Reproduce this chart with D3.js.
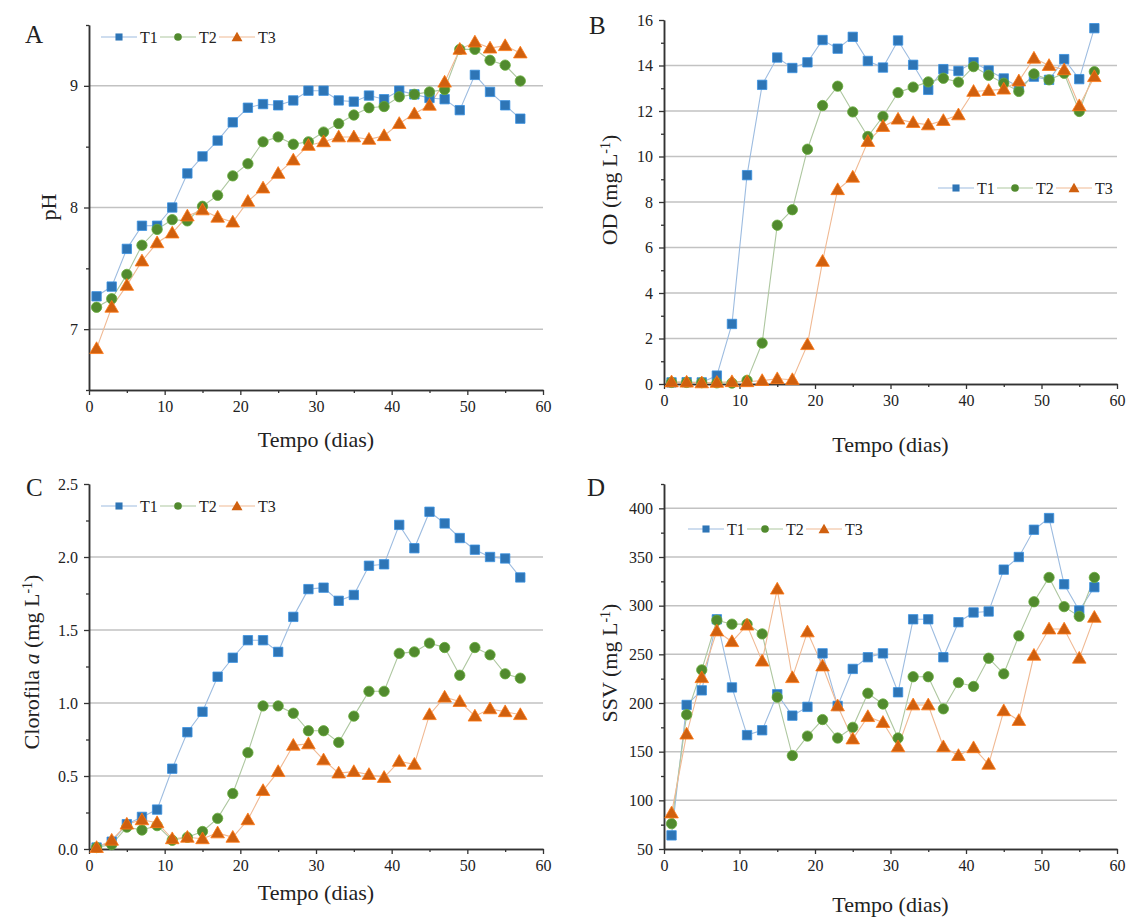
<!DOCTYPE html>
<html>
<head>
<meta charset="utf-8">
<script src="https://cdn.jsdelivr.net/npm/d3@7"></script>
<style>
  html, body { margin: 0; padding: 0; background: #fff; }
  svg { display: block; }
  text { font-family: "Liberation Serif", "Times New Roman", serif; fill: #222; }
</style>
</head>
<body>
<svg id="chart" width="1129" height="923"></svg>
<script>
// Sampling days
const days = [1, 3, 5, 7, 9, 11, 13, 15, 17, 19, 21, 23, 25, 27, 29, 31, 33, 35, 37, 39, 41, 43, 45, 47, 49, 51, 53, 55, 57];
const seriesNames = ["T1", "T2", "T3"];

// A – pH
const phT1 = [7.27, 7.35, 7.66, 7.85, 7.85, 8.00, 8.28, 8.42, 8.55, 8.70, 8.82, 8.85, 8.84, 8.88, 8.96, 8.96, 8.88, 8.87, 8.92, 8.89, 8.96, 8.93, 8.90, 8.89, 8.80, 9.09, 8.95, 8.84, 8.73];
const phT2 = [7.18, 7.25, 7.45, 7.69, 7.82, 7.90, 7.89, 8.01, 8.10, 8.26, 8.36, 8.54, 8.58, 8.52, 8.54, 8.62, 8.69, 8.76, 8.82, 8.83, 8.91, 8.93, 8.95, 8.97, 9.30, 9.30, 9.21, 9.17, 9.04];
const phT3 = [6.84, 7.18, 7.36, 7.56, 7.71, 7.79, 7.93, 7.98, 7.92, 7.88, 8.05, 8.16, 8.28, 8.39, 8.51, 8.54, 8.58, 8.58, 8.56, 8.59, 8.69, 8.77, 8.84, 9.03, 9.30, 9.36, 9.31, 9.33, 9.27];

// B – dissolved oxygen (mg L-1)
const odT1 = [0.07, 0.08, 0.07, 0.37, 2.64, 9.18, 13.15, 14.35, 13.89, 14.14, 15.12, 14.74, 15.26, 14.20, 13.91, 15.10, 14.03, 12.93, 13.84, 13.76, 14.14, 13.78, 13.43, 13.05, 13.51, 13.37, 14.28, 13.40, 15.64];
const odT2 = [0.07, 0.07, 0.06, 0.05, 0.04, 0.16, 1.80, 6.98, 7.66, 10.32, 12.24, 13.09, 11.96, 10.88, 11.76, 12.81, 13.05, 13.28, 13.44, 13.27, 13.95, 13.57, 13.22, 12.86, 13.63, 13.37, 13.66, 11.98, 13.73];
const odT3 = [0.09, 0.08, 0.05, 0.07, 0.10, 0.10, 0.15, 0.23, 0.19, 1.73, 5.39, 8.54, 9.09, 10.66, 11.32, 11.64, 11.49, 11.39, 11.58, 11.83, 12.86, 12.90, 12.96, 13.32, 14.32, 14.00, 13.81, 12.23, 13.51];

// C – chlorophyll a (mg L-1)
const chlT1 = [0.01, 0.05, 0.17, 0.22, 0.27, 0.55, 0.80, 0.94, 1.18, 1.31, 1.43, 1.43, 1.35, 1.59, 1.78, 1.79, 1.70, 1.74, 1.94, 1.95, 2.22, 2.06, 2.31, 2.23, 2.13, 2.05, 2.00, 1.99, 1.86];
const chlT2 = [0.01, 0.03, 0.15, 0.13, 0.16, 0.06, 0.08, 0.12, 0.21, 0.38, 0.66, 0.98, 0.98, 0.93, 0.81, 0.81, 0.73, 0.91, 1.08, 1.08, 1.34, 1.35, 1.41, 1.38, 1.19, 1.38, 1.33, 1.20, 1.17];
const chlT3 = [0.01, 0.06, 0.17, 0.20, 0.18, 0.07, 0.08, 0.07, 0.11, 0.08, 0.20, 0.40, 0.53, 0.71, 0.72, 0.61, 0.52, 0.53, 0.51, 0.49, 0.60, 0.58, 0.92, 1.04, 1.01, 0.91, 0.96, 0.94, 0.92];

// D – volatile suspended solids (mg L-1)
const ssvT1 = [64, 198, 213, 286, 216, 167, 172, 209, 187, 196, 251, 197, 235, 247, 251, 211, 286, 286, 247, 283, 293, 294, 337, 350, 378, 390, 322, 295, 319];
const ssvT2 = [76, 188, 234, 285, 281, 281, 271, 206, 146, 166, 183, 164, 175, 210, 199, 164, 227, 227, 194, 221, 217, 246, 230, 269, 304, 329, 299, 289, 329];
const ssvT3 = [87, 168, 226, 274, 263, 280, 243, 317, 226, 273, 238, 197, 163, 186, 180, 155, 198, 198, 155, 146, 154, 137, 192, 182, 249, 276, 276, 246, 288];

// Axis tick values
const xMajor = [0, 10, 20, 30, 40, 50, 60];
const xMinor = [5, 15, 25, 35, 45, 55];
const phMajor = [7, 8, 9];
const phMinor = [6.5, 7.5, 8.5, 9.5];
const odMajor = [0, 2, 4, 6, 8, 10, 12, 14, 16];
const odMinor = [1, 3, 5, 7, 9, 11, 13, 15];
const chlMajor = [0, 0.5, 1.0, 1.5, 2.0, 2.5];
const chlMinor = [0.25, 0.75, 1.25, 1.75, 2.25];
const ssvMajor = [50, 100, 150, 200, 250, 300, 350, 400];
const ssvMinor = [75, 125, 175, 225, 275, 325, 375, 425];

const markerColor = { T1: "#2E75B6", T2: "#518A2E", T3: "#D0600F" };
const lineColor   = { T1: "#9DBCE0", T2: "#AEC7A0", T3: "#F0B993" };
const markerType  = { T1: d3.symbolSquare, T2: d3.symbolCircle, T3: d3.symbolTriangle };
const markerArea  = { T1: 88, T2: 84, T3: 80 };
const legendArea  = { T1: 50, T2: 46, T3: 52 };

const svg = d3.select("#chart");

function drawPanel(cfg) {
  const g = svg.append("g");
  const x = d3.scaleLinear().domain([0, 60]).range([cfg.left, cfg.right]);
  const y = d3.scaleLinear().domain(cfg.yDomain).range([cfg.bottom, cfg.top]);

  // horizontal gridlines
  g.append("g").selectAll("line").data(cfg.grid).join("line")
    .attr("x1", x(0)).attr("x2", x(60))
    .attr("y1", d => y(d)).attr("y2", d => y(d))
    .attr("stroke", "#c2c2c2").attr("stroke-width", 1.5);

  // axes
  const styleAxis = sel => {
    sel.selectAll("path.domain").attr("stroke", "#333").attr("stroke-width", 1.5);
    sel.selectAll(".tick line").attr("stroke", "#333").attr("stroke-width", 1.3);
    sel.selectAll(".tick text")
      .attr("font-family", '"Liberation Serif", "Times New Roman", serif')
      .attr("font-size", 16).attr("fill", "#333");
  };
  g.append("g").attr("transform", `translate(0,${cfg.bottom})`)
    .call(d3.axisBottom(x).tickValues(xMinor).tickSize(3).tickSizeOuter(0).tickFormat(""))
    .call(styleAxis);
  g.append("g").attr("transform", `translate(0,${cfg.bottom})`)
    .call(d3.axisBottom(x).tickValues(xMajor).tickSize(5).tickSizeOuter(0).tickPadding(6).tickFormat(d3.format("d")))
    .call(styleAxis);
  g.append("g").attr("transform", `translate(${cfg.left},0)`)
    .call(d3.axisLeft(y).tickValues(cfg.yMinor).tickSize(3).tickSizeOuter(0).tickFormat(""))
    .call(styleAxis);
  g.append("g").attr("transform", `translate(${cfg.left},0)`)
    .call(d3.axisLeft(y).tickValues(cfg.yMajor).tickSize(5).tickSizeOuter(0).tickPadding(6).tickFormat(cfg.fmt))
    .call(styleAxis);

  // series
  const line = d3.line().x(d => x(d[0])).y(d => y(d[1]));
  cfg.series.forEach((vals, i) => {
    const name = seriesNames[i];
    const pts = days.map((d, k) => [d, vals[k]]);
    g.append("path").datum(pts)
      .attr("fill", "none").attr("stroke", lineColor[name]).attr("stroke-width", 1.1)
      .attr("d", line);
  });
  cfg.series.forEach((vals, i) => {
    const name = seriesNames[i];
    const pts = days.map((d, k) => [d, vals[k]]);
    const sym = d3.symbol().type(markerType[name]).size(markerArea[name]);
    g.append("g").selectAll("path").data(pts).join("path")
      .attr("transform", d => `translate(${x(d[0])},${y(d[1]) + (name === "T3" ? 1 : 0)})`)
      .attr("d", sym)
      .attr("fill", markerColor[name])
      .attr("stroke", d3.color(markerColor[name]).brighter(0.6))
      .attr("stroke-width", 0.8);
  });

  // legend
  const lg = g.append("g").attr("transform", `translate(${cfg.legend[0]},${cfg.legend[1]})`);
  seriesNames.forEach((name, i) => {
    const item = lg.append("g").attr("transform", `translate(${i * 59},0)`);
    item.append("line").attr("x1", 0).attr("x2", 36).attr("y1", 0).attr("y2", 0)
      .attr("stroke", lineColor[name]).attr("stroke-width", 1.2);
    item.append("path")
      .attr("transform", `translate(18,${name === "T3" ? 1 : 0})`)
      .attr("d", d3.symbol().type(markerType[name]).size(legendArea[name]))
      .attr("fill", markerColor[name]);
    item.append("text").attr("x", 39).attr("y", 5.5).attr("font-size", 16).text(name);
  });

  // panel letter
  g.append("text").attr("x", cfg.letter[0]).attr("y", cfg.letter[1])
    .attr("font-size", 25).text(cfg.name);

  // x axis title
  g.append("text").attr("x", (cfg.left + cfg.right) / 2).attr("y", cfg.xTitleY)
    .attr("text-anchor", "middle").attr("font-size", 22).text("Tempo (dias)");

  // y axis title
  const yt = g.append("text")
    .attr("transform", `translate(${cfg.yTitle[0]},${cfg.yTitle[1]}) rotate(-90)`)
    .attr("text-anchor", "middle").attr("font-size", 22);
  cfg.yLabel(yt);
}

const unitLabel = (sel, prefix, italic) => {
  sel.append("tspan").text(prefix);
  if (italic) {
    sel.append("tspan").attr("font-style", "italic").text(italic);
  }
  sel.append("tspan").text(" (mg L");
  sel.append("tspan").attr("font-size", 14).attr("baseline-shift", "super").text("-1");
  sel.append("tspan").text(")");
};

drawPanel({
  name: "A", left: 89, right: 543, top: 25, bottom: 390,
  yDomain: [6.5, 9.5], yMajor: phMajor, yMinor: phMinor, grid: phMajor,
  fmt: d3.format("d"), series: [phT1, phT2, phT3],
  legend: [101, 37], letter: [25, 43], xTitleY: 447, yTitle: [56, 207],
  yLabel: s => s.text("pH")
});

drawPanel({
  name: "B", left: 664, right: 1117, top: 20, bottom: 384,
  yDomain: [0, 16], yMajor: odMajor, yMinor: odMinor, grid: [2, 4, 6, 8, 10, 12, 14],
  fmt: d3.format("d"), series: [odT1, odT2, odT3],
  legend: [938, 188], letter: [589, 34], xTitleY: 452, yTitle: [617, 190],
  yLabel: s => unitLabel(s, "OD", null)
});

drawPanel({
  name: "C", left: 89, right: 543, top: 484, bottom: 849,
  yDomain: [0, 2.5], yMajor: chlMajor, yMinor: chlMinor, grid: [0.5, 1.0, 1.5, 2.0],
  fmt: d3.format(".1f"), series: [chlT1, chlT2, chlT3],
  legend: [101, 506], letter: [26, 496], xTitleY: 900, yTitle: [39, 662],
  yLabel: s => unitLabel(s, "Clorofila ", "a")
});

drawPanel({
  name: "D", left: 664, right: 1117, top: 484, bottom: 849,
  yDomain: [50, 425], yMajor: ssvMajor, yMinor: ssvMinor, grid: [100, 150, 200, 250, 300, 350, 400],
  fmt: d3.format("d"), series: [ssvT1, ssvT2, ssvT3],
  legend: [688, 529], letter: [587, 496], xTitleY: 912, yTitle: [617, 663],
  yLabel: s => unitLabel(s, "SSV", null)
});
</script>
</body>
</html>
